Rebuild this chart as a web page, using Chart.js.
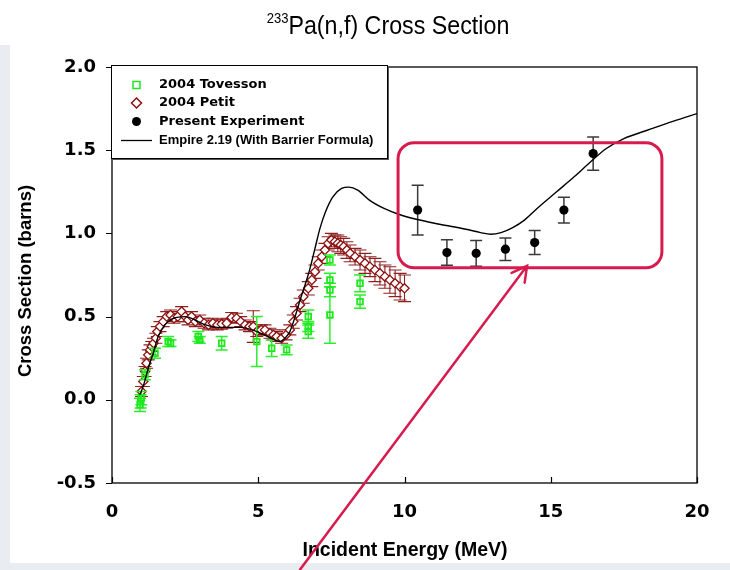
<!DOCTYPE html>
<html>
<head>
<meta charset="utf-8">
<title>233Pa(n,f) Cross Section</title>
<script src="https://cdn.jsdelivr.net/npm/chart.js@4/dist/chart.umd.min.js"></script>
<style>
  html, body { margin: 0; padding: 0; background: #fff; }
  #wrap { width: 730px; height: 570px; position: relative; }
  canvas { display: block; }
</style>
</head>
<body>
<div id="wrap"><canvas id="chart" width="730" height="570"></canvas></div>
<script>
// ---- data ----
// Empire 2.19 calculation (with barrier formula)
const empireE  = [0.95, 1.0, 1.1, 1.24, 1.41, 1.58, 1.81, 2.1, 2.5, 2.95, 3.2, 3.6, 4.0, 4.4, 4.8, 5.2, 5.5, 5.74, 5.91, 6.08, 6.26, 6.43, 6.6, 6.77, 6.94, 7.11, 7.3, 7.55, 7.85, 8.1, 8.4, 8.8, 9.3, 9.8, 10.4, 11.2, 12.1, 12.6, 12.95, 13.3, 13.7, 14.1, 14.6, 15.2, 15.8, 16.3, 16.9, 17.5, 18.3, 19.2, 20.0];
const empireXS = [0.03, 0.05, 0.10, 0.19, 0.28, 0.38, 0.45, 0.49, 0.50, 0.47, 0.45, 0.435, 0.435, 0.435, 0.42, 0.39, 0.365, 0.35, 0.37, 0.41, 0.50, 0.60, 0.69, 0.79, 0.91, 1.03, 1.13, 1.22, 1.27, 1.278, 1.26, 1.20, 1.15, 1.115, 1.085, 1.055, 1.025, 1.005, 0.995, 1.005, 1.035, 1.08, 1.16, 1.25, 1.34, 1.42, 1.51, 1.57, 1.62, 1.675, 1.72];

// 2004 Tovesson
const tovessonE   = [0.96, 0.98, 1.00, 1.13, 1.47, 1.92, 2.00, 2.95, 3.00, 3.75, 4.95, 5.46, 5.97, 6.71, 6.71, 6.71, 7.45, 7.45, 7.45, 7.45, 8.48, 8.48];
const tovessonXS  = [-0.03, -0.01, 0.01, 0.15, 0.28, 0.35, 0.34, 0.38, 0.36, 0.34, 0.35, 0.31, 0.30, 0.50, 0.44, 0.41, 0.84, 0.72, 0.66, 0.51, 0.70, 0.59];
const tovessonErr = [0.04, 0.04, 0.04, 0.03, 0.03, 0.03, 0.02, 0.03, 0.02, 0.04, 0.15, 0.05, 0.03, 0.04, 0.03, 0.04, 0.03, 0.04, 0.04, 0.17, 0.05, 0.04];

// 2004 Petit
const petitE   = [1.01, 1.07, 1.13, 1.18, 1.24, 1.30, 1.36, 1.42, 1.50, 1.55, 1.64, 1.75, 1.87, 2.00, 2.12, 2.25, 2.38, 2.50, 2.60, 2.72, 2.85, 3.00, 3.15, 3.30, 3.45, 3.60, 3.75, 3.92, 4.09, 4.26, 4.40, 4.55, 4.70, 4.83, 4.95, 5.10, 5.23, 5.40, 5.52, 5.63, 5.80, 5.95, 6.08, 6.20, 6.31, 6.43, 6.54, 6.71, 6.83, 6.94, 7.05, 7.17, 7.28, 7.39, 7.50, 7.62, 7.72, 7.82, 7.92, 8.03, 8.14, 8.31, 8.48, 8.65, 8.82, 8.99, 9.16, 9.33, 9.50, 9.68, 9.85, 10.0];
const petitXS  = [0.05, 0.11, 0.17, 0.22, 0.27, 0.30, 0.32, 0.34, 0.37, 0.41, 0.44, 0.47, 0.50, 0.51, 0.49, 0.50, 0.53, 0.50, 0.48, 0.50, 0.47, 0.48, 0.46, 0.45, 0.46, 0.45, 0.455, 0.46, 0.495, 0.49, 0.47, 0.45, 0.44, 0.44, 0.41, 0.42, 0.42, 0.40, 0.39, 0.38, 0.37, 0.39, 0.42, 0.47, 0.52, 0.57, 0.62, 0.67, 0.72, 0.77, 0.82, 0.86, 0.90, 0.94, 0.96, 0.95, 0.94, 0.93, 0.92, 0.90, 0.88, 0.86, 0.84, 0.82, 0.80, 0.78, 0.76, 0.74, 0.72, 0.70, 0.68, 0.67];
const petitErr = [0.03, 0.03, 0.03, 0.03, 0.03, 0.03, 0.03, 0.03, 0.03, 0.03, 0.03, 0.03, 0.03, 0.03, 0.03, 0.03, 0.03, 0.03, 0.03, 0.03, 0.03, 0.03, 0.03, 0.03, 0.03, 0.03, 0.03, 0.03, 0.03, 0.03, 0.03, 0.03, 0.03, 0.095, 0.03, 0.03, 0.03, 0.03, 0.03, 0.03, 0.03, 0.03, 0.03, 0.04, 0.04, 0.04, 0.04, 0.04, 0.04, 0.04, 0.04, 0.04, 0.04, 0.04, 0.04, 0.04, 0.05, 0.05, 0.05, 0.05, 0.05, 0.05, 0.06, 0.06, 0.06, 0.07, 0.07, 0.07, 0.08, 0.08, 0.08, 0.08];

// Present experiment
const presentE   = [10.45, 11.45, 12.45, 13.45, 14.45, 15.45, 16.45];
const presentXS  = [1.14, 0.885, 0.88, 0.905, 0.945, 1.14, 1.48];
const presentErr = [0.15, 0.077, 0.077, 0.068, 0.072, 0.077, 0.10];

// axis ticks
const xTicks = [0, 5, 10, 15, 20];
const yTicks = [-0.5, 0.0, 0.5, 1.0, 1.5, 2.0];

// highlight box and arrow (data coordinates)
const highlightBox = { x1: 9.78, x2: 18.80, y1: 0.793, y2: 1.545 };
const arrowFrom = { x: 6.43, y: -1.02 };
const arrowTo   = { x: 14.19, y: 0.805 };

const pts = (xs, ys) => xs.map((x, i) => ({ x: x, y: ys[i] }));

const ACCENT = '#d81b4e';

// page background: slide margin at left and bottom
const backdrop = {
  id: 'backdrop',
  beforeDraw(chart) {
    const ctx = chart.ctx;
    ctx.save();
    ctx.fillStyle = '#ffffff';
    ctx.fillRect(0, 0, chart.width, chart.height);
    ctx.fillStyle = '#e9ecf0';
    ctx.fillRect(0, 45, 10, chart.height - 45);
    ctx.fillRect(0, 563, chart.width, 7);
    ctx.restore();
  }
};

// vertical error bars with caps, drawn under each dataset's markers
const errorBars = {
  id: 'errorBars',
  beforeDatasetDraw(chart, args) {
    const ds = chart.data.datasets[args.index];
    if (!ds.errors) return;
    const { ctx, chartArea, scales: { x, y } } = chart;
    ctx.save();
    ctx.beginPath();
    ctx.rect(chartArea.left, chartArea.top, chartArea.width, chartArea.height);
    ctx.clip();
    ctx.strokeStyle = ds.errorColor;
    ctx.lineWidth = ds.errorWidth;
    ds.data.forEach((p, i) => {
      const e = ds.errors[i];
      const px = x.getPixelForValue(p.x);
      const yHi = y.getPixelForValue(p.y + e);
      const yLo = y.getPixelForValue(p.y - e);
      const c = ds.capHalf;
      ctx.beginPath();
      ctx.moveTo(px, yHi); ctx.lineTo(px, yLo);
      ctx.moveTo(px - c, yHi); ctx.lineTo(px + c, yHi);
      ctx.moveTo(px - c, yLo); ctx.lineTo(px + c, yLo);
      ctx.stroke();
    });
    ctx.restore();
  }
};

// plot frame, tick marks, titles, legend and highlight annotation
const decorations = {
  id: 'decorations',
  afterDraw(chart) {
    const { ctx, chartArea: a, scales: { x, y } } = chart;
    ctx.save();

    // frame
    ctx.strokeStyle = '#000';
    ctx.lineWidth = 1.3;
    ctx.strokeRect(a.left, a.top, a.right - a.left, a.bottom - a.top);

    // tick marks: outward on y, inward on x
    ctx.lineWidth = 1.2;
    ctx.beginPath();
    yTicks.forEach(v => {
      const py = Math.round(y.getPixelForValue(v)) + 0.5;
      ctx.moveTo(a.left - 6, py); ctx.lineTo(a.left, py);
    });
    xTicks.forEach(v => {
      const px = Math.round(x.getPixelForValue(v)) + 0.5;
      ctx.moveTo(px, a.bottom); ctx.lineTo(px, a.bottom - 6);
    });
    ctx.stroke();

    // chart title with superscript mass number
    ctx.fillStyle = '#000';
    ctx.textBaseline = 'alphabetic';
    ctx.textAlign = 'left';
    const mainText = 'Pa(n,f) Cross Section';
    ctx.font = '25px "Liberation Sans", Arial, sans-serif';
    const sx = 0.93;
    const mainW = ctx.measureText(mainText).width * sx;
    ctx.font = '14px "Liberation Sans", Arial, sans-serif';
    const supW = ctx.measureText('233').width * sx;
    const startX = 388 - (mainW + supW) / 2;
    ctx.save();
    ctx.translate(startX, 0);
    ctx.scale(sx, 1);
    ctx.fillText('233', 0, 23);
    ctx.font = '25px "Liberation Sans", Arial, sans-serif';
    ctx.fillText(mainText, supW / sx, 34);
    ctx.restore();

    // axis titles
    ctx.save();
    ctx.font = 'bold 21px "Liberation Sans", Arial, sans-serif';
    ctx.textAlign = 'center';
    ctx.textBaseline = 'middle';
    ctx.translate(405, 550);
    ctx.scale(0.93, 1);
    ctx.fillText('Incident Energy (MeV)', 0, 0);
    ctx.restore();

    ctx.save();
    ctx.font = 'bold 18.5px "Liberation Sans", Arial, sans-serif';
    ctx.textAlign = 'center';
    ctx.textBaseline = 'middle';
    ctx.translate(26, 281);
    ctx.rotate(-Math.PI / 2);
    ctx.fillText('Cross Section (barns)', 0, 0);
    ctx.restore();

    // legend
    const L = { x: 111, y: 65, w: 276, h: 93 };
    ctx.fillStyle = '#555';
    ctx.fillRect(L.x + 2, L.y + 2, L.w, L.h);
    ctx.fillStyle = '#fff';
    ctx.fillRect(L.x, L.y, L.w, L.h);
    ctx.strokeStyle = '#000';
    ctx.lineWidth = 1;
    ctx.strokeRect(L.x + 0.5, L.y + 0.5, L.w, L.h);

    const ds = chart.data.datasets;
    const rows = [85, 103, 121.5, 140];
    const mx = 136.5, tx = 159;
    ctx.textAlign = 'left';
    ctx.textBaseline = 'middle';
    // Tovesson: open square
    ctx.strokeStyle = ds[0].borderColor; ctx.lineWidth = 1.5;
    ctx.strokeRect(mx - 3.5, rows[0] - 3.5, 7, 7);
    // Petit: open diamond
    ctx.strokeStyle = ds[1].borderColor; ctx.lineWidth = 1.5;
    ctx.beginPath();
    ctx.moveTo(mx, rows[1] - 5); ctx.lineTo(mx + 5, rows[1]);
    ctx.lineTo(mx, rows[1] + 5); ctx.lineTo(mx - 5, rows[1]); ctx.closePath();
    ctx.stroke();
    // Present: filled circle
    ctx.fillStyle = '#000';
    ctx.beginPath(); ctx.arc(mx, rows[2], 4.5, 0, Math.PI * 2); ctx.fill();
    // Empire: line
    ctx.strokeStyle = '#000'; ctx.lineWidth = 1.3;
    ctx.beginPath(); ctx.moveTo(121, rows[3] + 0.5); ctx.lineTo(152, rows[3] + 0.5); ctx.stroke();

    ctx.fillStyle = '#000';
    ctx.font = 'bold 13px "DejaVu Sans", Verdana, sans-serif';
    ctx.fillText(ds[0].label, tx, rows[0]);
    ctx.fillText(ds[1].label, tx, rows[1]);
    ctx.fillText(ds[2].label, tx, rows[2]);
    ctx.font = 'bold 13px "Liberation Sans", Arial, sans-serif';
    ctx.fillText(ds[3].label, tx, rows[3]);

    // highlight box around the present measurements
    const bx1 = x.getPixelForValue(highlightBox.x1), bx2 = x.getPixelForValue(highlightBox.x2);
    const by1 = y.getPixelForValue(highlightBox.y2), by2 = y.getPixelForValue(highlightBox.y1);
    ctx.strokeStyle = ACCENT;
    ctx.lineWidth = 3;
    ctx.beginPath();
    ctx.roundRect(bx1, by1, bx2 - bx1, by2 - by1, 16);
    ctx.stroke();

    // arrow pointing at the box
    const ax1 = x.getPixelForValue(arrowFrom.x), ay1 = y.getPixelForValue(arrowFrom.y);
    const ax2 = x.getPixelForValue(arrowTo.x),   ay2 = y.getPixelForValue(arrowTo.y);
    const ang = Math.atan2(ay2 - ay1, ax2 - ax1);
    const head = 17, spread = 0.5;
    ctx.lineWidth = 2.5;
    ctx.lineCap = 'round';
    ctx.beginPath();
    ctx.moveTo(ax1, ay1); ctx.lineTo(ax2, ay2);
    ctx.moveTo(ax2 - head * Math.cos(ang - spread), ay2 - head * Math.sin(ang - spread));
    ctx.lineTo(ax2, ay2);
    ctx.lineTo(ax2 - head * Math.cos(ang + spread), ay2 - head * Math.sin(ang + spread));
    ctx.stroke();

    ctx.restore();
  }
};

new Chart(document.getElementById('chart'), {
  type: 'scatter',
  data: {
    datasets: [
      {
        label: '2004 Tovesson',
        data: pts(tovessonE, tovessonXS),
        errors: tovessonErr,
        errorColor: '#2cee2c', errorWidth: 1.5, capHalf: 6,
        pointStyle: 'rect', pointRadius: 4, pointBorderWidth: 1.8,
        borderColor: '#1ee81e', backgroundColor: 'rgba(255,255,255,0)',
        order: 1
      },
      {
        label: '2004 Petit',
        data: pts(petitE, petitXS),
        errors: petitErr,
        errorColor: '#8f2020', errorWidth: 1.1, capHalf: 6.5,
        pointStyle: 'rectRot', pointRadius: 4.6, pointBorderWidth: 1.3,
        borderColor: '#8b1010', backgroundColor: '#ffffff',
        order: 3
      },
      {
        label: 'Present Experiment',
        data: pts(presentE, presentXS),
        errors: presentErr,
        errorColor: '#3a3a3a', errorWidth: 1.5, capHalf: 6,
        pointStyle: 'circle', pointRadius: 4.6, pointBorderWidth: 0,
        borderColor: '#000', backgroundColor: '#000',
        order: 2
      },
      {
        label: 'Empire 2.19 (With Barrier Formula)',
        data: pts(empireE, empireXS),
        showLine: true, pointRadius: 0,
        borderColor: '#000', borderWidth: 1.4,
        cubicInterpolationMode: 'monotone',
        order: 0
      }
    ]
  },
  options: {
    responsive: false,
    devicePixelRatio: 1,
    animation: false,
    layout: { padding: { top: 67, right: 33, left: 0, bottom: 0 } },
    plugins: {
      legend: { display: false },
      title: { display: false },
      tooltip: { enabled: false }
    },
    scales: {
      x: {
        type: 'linear', min: 0, max: 20,
        afterFit: s => { s.height = 87; },
        afterBuildTicks: s => { s.ticks = xTicks.map(v => ({ value: v })); },
        grid: { display: false, drawTicks: false },
        border: { display: false },
        ticks: { font: { family: 'DejaVu Sans', weight: 'bold', size: 18 }, color: '#000', padding: 19, maxRotation: 0 }
      },
      y: {
        type: 'linear', min: -0.5, max: 2.0,
        afterFit: s => { s.width = 112; },
        afterBuildTicks: s => { s.ticks = yTicks.map(v => ({ value: v })); },
        grid: { display: false, drawTicks: false },
        border: { display: false },
        ticks: { font: { family: 'DejaVu Sans', weight: 'bold', size: 18 }, color: '#000', padding: 16,
                  callback: v => v.toFixed(1) }
      }
    }
  },
  plugins: [backdrop, errorBars, decorations]
});
</script>
</body>
</html>
